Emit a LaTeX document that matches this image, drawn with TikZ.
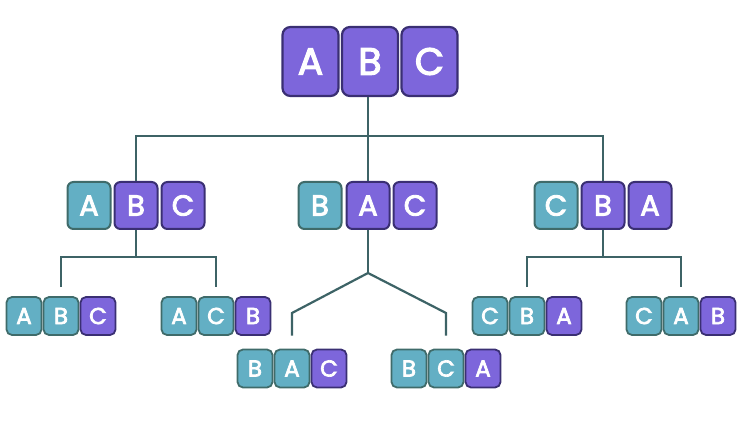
\documentclass[tikz,border=0pt]{standalone}
\usepackage{fontspec}
\setmainfont{Poppins}
\newfontfamily\popmed{Poppins}[FakeBold=3]
\definecolor{tealf}{HTML}{63AFC4}
\definecolor{teald}{HTML}{3F6B6A}
\definecolor{purf}{HTML}{7D66DB}
\definecolor{purd}{HTML}{3A2F73}
\definecolor{linec}{HTML}{3D6366}
\tikzset{
  box/.style={rounded corners=8pt, text=white, inner sep=0pt},
  tl/.style={box, fill=tealf, draw=teald},
  pl/.style={box, fill=purf, draw=purd},
  big/.style={minimum width=56pt, minimum height=69pt, line width=2.2pt, font=\fontsize{38}{40}\popmed},
  mid/.style={minimum width=43pt, minimum height=47pt, line width=2pt, rounded corners=6pt, font=\fontsize{29}{31}\popmed},
  sml/.style={minimum width=35pt, minimum height=38pt, line width=1.8pt, rounded corners=5.5pt, font=\fontsize{23}{25}\popmed},
  conn/.style={draw=linec, line width=2.2pt},
}
\begin{document}
\begin{tikzpicture}[x=1pt,y=-1pt]
\useasboundingbox (0,0) rectangle (750,422);
% level 1
\node[pl,big] (r1) at (310.5,61.5) {A};
\node[pl,big] (r2) at (370,61.5) {B};
\node[pl,big] (r3) at (429.5,61.5) {C};
% level 2
\node[tl,mid] (a1) at (89,205.5) {A};
\node[pl,mid] (a2) at (136,205.5) {B};
\node[pl,mid] (a3) at (183,205.5) {C};
\node[tl,mid] (b1) at (320,205.5) {B};
\node[pl,mid] (b2) at (368,205.5) {A};
\node[pl,mid] (b3) at (415,205.5) {C};
\node[tl,mid] (c1) at (556,205.5) {C};
\node[pl,mid] (c2) at (603,205.5) {B};
\node[pl,mid] (c3) at (650,205.5) {A};
% level 3
\node[tl,sml] (d1) at (24,316) {A};
\node[tl,sml] (d2) at (61,316) {B};
\node[pl,sml] (d3) at (98,316) {C};
\node[tl,sml] (e1) at (179,316) {A};
\node[tl,sml] (e2) at (216,316) {C};
\node[pl,sml] (e3) at (253,316) {B};
\node[tl,sml] (f1) at (255,368.5) {B};
\node[tl,sml] (f2) at (292,368.5) {A};
\node[pl,sml] (f3) at (329,368.5) {C};
\node[tl,sml] (g1) at (409,368.5) {B};
\node[tl,sml] (g2) at (446,368.5) {C};
\node[pl,sml] (g3) at (483,368.5) {A};
\node[tl,sml] (h1) at (490,316) {C};
\node[tl,sml] (h2) at (527,316) {B};
\node[pl,sml] (h3) at (564,316) {A};
\node[tl,sml] (k1) at (644,316) {C};
\node[tl,sml] (k2) at (681,316) {A};
\node[pl,sml] (k3) at (718,316) {B};
% junctions
\coordinate (j0) at (368,136);
\coordinate (ja) at (136,257);
\coordinate (jc) at (603,257);
\coordinate (jb) at (368,273);
\coordinate (fb) at (292,313);
\coordinate (gb) at (446,313);
% connectors
\draw[conn] (r2.south -| j0) -- (j0);
\draw[conn] (a2.north) |- (j0) -| (c2.north);
\draw[conn] (b2.north) -- (j0);
\draw[conn] (a2.south) -- (ja);
\draw[conn, shorten <=9pt, shorten >=9pt] (d2.north) |- (ja) -| (e2.north);
\draw[conn] (c2.south) -- (jc);
\draw[conn, shorten <=9pt, shorten >=9pt] (h2.north) |- (jc) -| (k2.north);
\draw[conn] (b2.south) -- (jb);
\draw[conn, shorten >=13pt] (jb) -- (fb) -- (f2.north);
\draw[conn, shorten >=13pt] (jb) -- (gb) -- (g2.north);
\end{tikzpicture}
\end{document}
